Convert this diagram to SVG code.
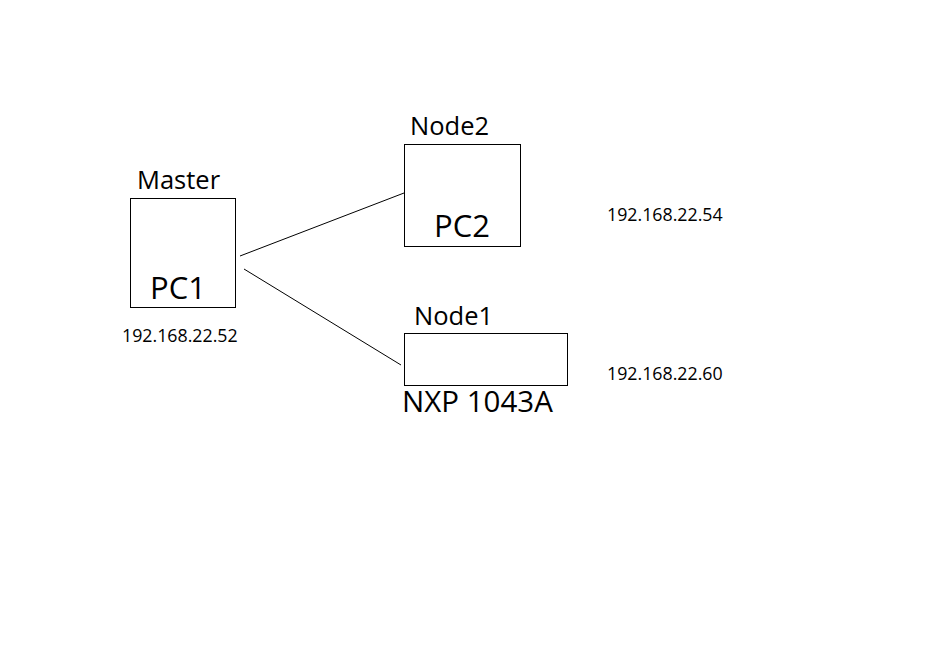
<svg xmlns="http://www.w3.org/2000/svg" width="926" height="667" viewBox="0 0 926 667">
<style>
.box{fill:#fff;stroke:#000;stroke-width:1}
.t{font-family:"Open Sans","Noto Sans",sans-serif;fill:#000}
.lbl{font-size:25.5px}
.big{font-size:31px}
.ip{font-size:17.8px}
.c{stroke:#000;stroke-width:1;fill:none}
</style>
<rect width="926" height="667" fill="#fff"/>
<g id="connectors">
<line class="c" x1="240" y1="256" x2="404" y2="193"/>
<line class="c" x1="244" y1="269" x2="401" y2="365"/>
</g>
<g id="master">
<rect class="box" x="130.5" y="198.5" width="105" height="109"/>
<text class="t lbl" x="137" y="189">Master</text>
<text class="t big" x="150" y="299">PC1</text>
<text class="t ip" x="122" y="342">192.168.22.52</text>
</g>
<g id="node2">
<rect class="box" x="404.5" y="144.5" width="116" height="102"/>
<text class="t lbl" x="410" y="135">Node2</text>
<text class="t big" x="434" y="237">PC2</text>
<text class="t ip" x="607" y="221">192.168.22.54</text>
</g>
<g id="node1">
<rect class="box" x="404.5" y="333.5" width="163" height="52"/>
<text class="t lbl" x="414" y="325">Node1</text>
<text class="t" font-size="29.5" x="402" y="412">NXP 1043A</text>
<text class="t ip" x="607" y="380">192.168.22.60</text>
</g>
</svg>
